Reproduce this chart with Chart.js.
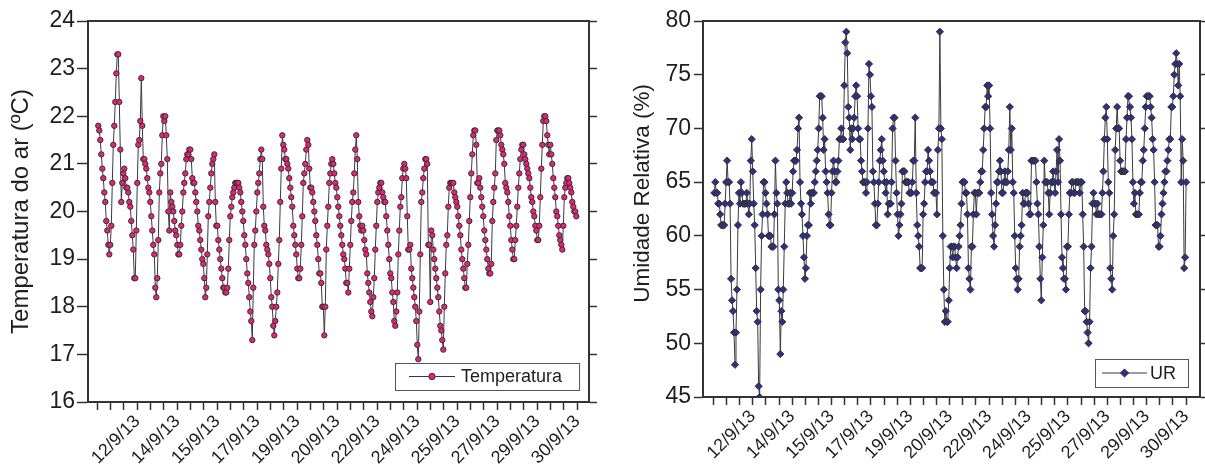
<!DOCTYPE html>
<html>
<head>
<meta charset="utf-8">
<script src="https://cdn.jsdelivr.net/npm/chart.js@4.4.1/dist/chart.umd.min.js"></script>
<style>
  html, body { margin: 0; padding: 0; background: #fff; }
  #wrap { position: relative; width: 1205px; height: 465px; }
  #tempChart { position: absolute; left: 0; top: 0; }
  #urChart { position: absolute; left: 600px; top: 0; }
</style>
</head>
<body>
<div id="wrap">
  <canvas id="tempChart" width="600" height="465"></canvas>
  <canvas id="urChart" width="605" height="465"></canvas>
</div>
<script>
// ------------------------------------------
// dados (leituras horárias, 11/9 a 30/9/13)
// ------------------------------------------
const xTickLabels = ["12/9/13", "14/9/13", "15/9/13", "17/9/13", "19/9/13", "20/9/13",
                     "22/9/13", "24/9/13", "25/9/13", "27/9/13", "29/9/13", "30/9/13"];
const hoursPerLabel = 40;

const tempTicks = [16, 17, 18, 19, 20, 21, 22, 23, 24];
const urTicks = [45, 50, 55, 60, 65, 70, 75, 80];

const temperatura = [
    21.8, 21.7, 21.5, 21.2, 20.9, 20.7, 20.4, 20.2, 19.8, 19.6, 19.3, 19.1,
    19.3, 19.7, 20.6, 21.4, 21.8, 22.3, 22.9, 23.3, 23.3,
    22.3, 21.3, 20.2, 20.6, 20.8, 20.9, 20.7, 20.5, 20.5, 20.4, 20.2, 20.1, 19.8, 19.5, 19.2, 18.6, 18.6,
    19.6, 20.6, 21.4, 21.5, 21.9, 22.8,
    21.8, 21.1, 21.1, 21.0, 20.9, 20.7, 20.5, 20.4, 20.2, 19.9, 19.6, 19.3, 19.1, 18.4, 18.2,
    18.6, 19.4, 20.4, 20.8, 21.0, 21.6, 22.0, 21.9, 22.0,
    21.6, 21.1, 20.0, 19.6, 20.4, 20.2, 20.1, 20.0, 19.8, 19.6, 19.5, 19.3, 19.1, 19.1, 19.3,
    19.7, 20.0, 20.4, 20.6, 20.8, 21.1, 21.2, 21.2, 21.3, 21.3,
    21.1, 20.7, 20.6, 20.6, 20.4, 20.2, 20.0, 19.7, 19.6, 19.4, 19.2, 19.0, 18.9, 18.6, 18.2,
    18.4, 19.1, 19.9, 20.2, 20.5, 20.8, 21.0, 21.1, 21.2,
    20.2, 19.7, 19.7, 19.4, 19.2, 19.0, 18.8, 18.6, 18.4, 18.4, 18.3, 18.3, 18.4, 18.8,
    19.4, 19.9, 20.1, 20.3, 20.4, 20.5, 20.6, 20.6, 20.6,
    20.6, 20.5, 20.4, 20.2, 20.0, 19.8, 19.5, 19.3, 19.0, 18.7, 18.5, 18.2, 17.9, 17.7, 17.3,
    18.4, 19.3, 19.6, 20.0, 20.4, 20.6, 20.8, 21.1, 21.3,
    21.1, 20.1, 19.7, 19.6, 19.3, 19.2, 19.1, 18.9, 18.6, 18.2, 18.0, 17.6, 17.4,
    17.7, 18.0, 18.3, 18.9, 19.4, 20.2, 20.9, 21.6,
    21.4, 21.3, 21.1, 21.1, 21.0, 20.9, 20.7, 20.5, 20.3, 20.1, 19.7, 19.5, 19.3, 19.1, 18.8, 18.6, 18.6,
    18.8, 19.3, 19.9, 20.6, 20.8, 21.0, 21.3, 21.5, 21.4,
    20.9, 20.5, 20.5, 20.4, 20.2, 20.0, 19.8, 19.5, 19.3, 19.0, 18.7, 18.7, 18.5, 18.0, 18.0, 17.4,
    18.0, 19.2, 19.7, 20.1, 20.6, 20.8, 21.0, 21.1,
    21.0, 20.8, 20.6, 20.5, 20.3, 20.1, 19.9, 19.7, 19.5, 19.3, 19.1, 19.0, 18.8, 18.5, 18.5, 18.3,
    18.8, 19.3, 19.8, 20.2, 20.4, 20.8, 21.3, 21.6,
    21.1, 20.2, 19.9, 19.7, 19.6, 19.7, 19.6, 19.4, 19.2, 19.1, 18.7, 18.5, 18.3, 18.1, 17.9, 17.8,
    18.2, 18.6, 19.2, 19.7, 20.2, 20.4, 20.5, 20.6,
    20.6, 20.4, 20.3, 20.2, 20.2, 19.9, 19.6, 19.3, 19.0, 18.7, 18.6, 18.3, 18.1, 17.7, 17.6,
    17.9, 18.3, 19.1, 19.6, 20.1, 20.3, 20.7, 20.9, 21.0,
    20.9, 20.7, 19.9, 19.2, 19.2, 19.3, 18.8, 18.6, 18.4, 18.2, 18.0, 17.7, 17.2, 16.9,
    17.9, 19.1, 20.2, 20.4, 20.7, 20.9, 21.1, 21.1, 21.0,
    19.3, 19.3, 18.1, 19.6, 19.5, 19.2, 19.0, 18.8, 18.6, 18.4, 18.2, 17.9, 17.6, 17.5, 17.3, 17.1,
    18.0, 18.7, 19.3, 19.5, 20.1, 20.5, 20.6, 20.6, 20.6, 20.6, 20.4,
    20.3, 20.2, 20.1, 19.9, 19.7, 19.5, 19.2, 19.0, 18.8, 18.6, 18.4, 18.4,
    18.9, 19.3, 19.8, 20.3, 20.8, 21.2, 21.6, 21.7, 21.7,
    21.4, 20.6, 20.6, 20.7, 20.5, 20.3, 20.1, 19.9, 19.6, 19.4, 19.2, 19.0, 18.8, 18.7, 18.7, 18.9,
    19.8, 20.2, 20.5, 20.8, 21.5, 21.7, 21.7, 21.7, 21.6,
    21.4, 21.3, 21.2, 21.0, 20.6, 20.5, 20.4, 20.2, 19.9, 19.7, 19.4, 19.2, 19.0, 19.0,
    19.4, 19.7, 20.1, 20.5, 20.8, 21.1, 21.3, 21.4, 21.4,
    21.2, 21.1, 21.0, 20.9, 20.8, 20.7, 20.5, 20.3, 20.2, 20.0, 19.9, 19.7, 19.6, 19.4, 19.4, 19.7,
    20.3, 20.9, 21.4, 21.9, 22.0, 22.0, 21.9,
    21.6, 21.4, 21.2, 21.4, 21.2, 21.0, 20.7, 20.5, 20.3, 20.0, 19.9, 19.7, 19.5, 19.4, 19.3, 19.2,
    19.7, 20.3, 20.5, 20.6, 20.7, 20.7,
    20.6, 20.5, 20.4, 20.2, 20.1, 20.0, 20.0, 19.9
];

const umidade = [
    64, 65, 64, 64, 63, 63, 62, 61, 61, 61, 61, 63, 65, 67, 65, 65, 63, 56, 54, 53,
    51, 48, 51, 55, 61, 64, 63, 65, 64, 63, 63, 63, 63, 64, 63, 62, 63, 67, 69, 66,
    63, 61, 57, 53, 52, 46, 45, 55, 60, 62, 65, 65, 64, 63, 62, 60, 60, 60, 59, 59,
    59, 62, 67, 64, 63, 55, 54, 49, 53, 52, 55, 59, 63, 65, 64, 63, 63, 64, 63, 64,
    66, 67, 67, 67, 68, 70, 71, 65, 63, 62, 60, 58, 56, 57, 60, 61, 61, 64, 63, 64,
    64, 64, 65, 66, 67, 68, 70, 73, 73, 73, 71, 68, 69, 66, 65, 64, 62, 61, 61, 64,
    66, 67, 66, 65, 65, 66, 67, 69, 69, 70, 69, 69, 74, 78, 79, 77, 72, 71, 68, 70,
    69, 70, 71, 73, 74, 73, 70, 69, 69, 67, 66, 65, 65, 65, 64, 65, 70, 76, 75, 73,
    72, 66, 65, 63, 61, 61, 63, 65, 67, 68, 69, 67, 66, 65, 64, 65, 62, 63, 63, 63,
    65, 70, 71, 71, 67, 64, 62, 60, 61, 62, 63, 66, 66, 66, 65, 65, 65, 65, 64, 64,
    64, 65, 67, 67, 71, 64, 61, 60, 59, 57, 57, 57, 62, 63, 65, 66, 66, 68, 67, 66,
    65, 65, 65, 64, 64, 64, 62, 68, 70, 79, 70, 69, 60, 55, 52, 53, 52, 52, 54, 57,
    59, 59, 58, 59, 59, 58, 57, 58, 59, 60, 61, 63, 65, 65, 65, 64, 64, 62, 57, 56,
    55, 59, 59, 62, 64, 64, 62, 64, 64, 64, 65, 66, 66, 68, 70, 72, 72, 74, 73, 74,
    70, 64, 62, 60, 59, 61, 63, 65, 65, 66, 67, 66, 64, 64, 65, 66, 65, 65, 66, 68,
    72, 68, 70, 65, 64, 60, 57, 56, 55, 56, 59, 60, 61, 64, 63, 63, 64, 64, 64, 63,
    62, 62, 67, 67, 67, 67, 67, 65, 63, 62, 59, 56, 54, 58, 61, 67, 65, 65, 65, 64,
    62, 64, 65, 65, 66, 65, 64, 66, 68, 65, 69, 67, 62, 58, 57, 56, 56, 55, 59, 59,
    62, 64, 64, 65, 65, 64, 64, 65, 65, 65, 65, 64, 65, 65, 62, 59, 53, 53, 52, 51,
    50, 52, 57, 59, 63, 64, 63, 63, 62, 63, 62, 62, 62, 62, 64, 66, 69, 71, 72, 69,
    65, 64, 57, 56, 55, 60, 62, 68, 70, 72, 70, 70, 67, 66, 66, 66, 66, 66, 69, 71,
    73, 73, 72, 71, 69, 65, 63, 64, 62, 62, 62, 62, 64, 65, 65, 67, 68, 70, 72, 73,
    73, 73, 73, 72, 71, 69, 68, 65, 61, 61, 61, 59, 59, 60, 62, 63, 64, 65, 66, 66,
    67, 68, 69, 69, 72, 72, 73, 75, 76, 77, 76, 74, 76, 73, 65, 69, 67, 57, 58, 65
];

const FONT = '"Liberation Sans", Arial, Helvetica, sans-serif';
Chart.defaults.font.family = FONT;
Chart.defaults.color = "#1e1e1e";

// ------------------------------------------
// eixo x: marca a cada 40/3 h, rótulo a cada 40 h
// ------------------------------------------
function hourTicks(scale) {
    const ticks = [];
    const step = hoursPerLabel / 3;
    for (let n = 0; n <= xTickLabels.length * 3; n++) ticks.push({ value: n * step });
    scale.ticks = ticks;
}

function hourLabel(value) {
    const n = Math.round(value / hoursPerLabel);
    if (n < 1 || Math.abs(value - n * hoursPerLabel) > 0.01) return "";
    return xTickLabels[n - 1];
}

// ------------------------------------------
// legenda em caixa, no canto inferior direito
// ------------------------------------------
const boxLegend = {
    id: "boxLegend",
    afterDraw(chart, args, o) {
        const { ctx, chartArea: a } = chart;
        const ds = chart.data.datasets[0];
        ctx.save();
        ctx.font = `18px ${FONT}`;
        const tw = ctx.measureText(ds.label).width;
        const w = o.padLeft + o.lineLen + o.gap + tw + o.padRight;
        const x = Math.round(a.right - o.right - w);
        const y = Math.round(a.bottom - o.bottom - o.height);
        const cy = y + o.height / 2;

        ctx.fillStyle = "#fff";
        ctx.fillRect(x, y, w, o.height);
        ctx.strokeStyle = "#555";
        ctx.lineWidth = 1;
        ctx.strokeRect(x + 0.5, y + 0.5, w, o.height);

        ctx.strokeStyle = ds.borderColor;
        ctx.lineWidth = ds.borderWidth;
        ctx.beginPath();
        ctx.moveTo(x + o.padLeft, cy);
        ctx.lineTo(x + o.padLeft + o.lineLen, cy);
        ctx.stroke();

        ctx.fillStyle = ds.pointBackgroundColor;
        ctx.strokeStyle = ds.pointBorderColor;
        ctx.lineWidth = ds.pointBorderWidth;
        Chart.helpers.drawPoint(ctx, {
            pointStyle: ds.pointStyle,
            radius: ds.pointRadius + 0.5,
            borderWidth: ds.pointBorderWidth,
            rotation: 0
        }, x + o.padLeft + o.lineLen / 2, cy);

        ctx.fillStyle = "#1e1e1e";
        ctx.textAlign = "left";
        ctx.textBaseline = "middle";
        ctx.fillText(ds.label, x + o.padLeft + o.lineLen + o.gap, cy + 1);
        ctx.restore();
    }
};

function makeChart(id, s) {
    const axisLine = { display: true, color: "#333", width: 2 };
    const tickGrid = { drawOnChartArea: false, drawTicks: true, tickColor: "#333", tickWidth: 1.5 };

    return new Chart(document.getElementById(id), {
        type: "line",
        data: {
            datasets: [{
                label: s.label,
                data: s.values.map((v, i) => ({ x: i + 1, y: v })),
                borderColor: "#3a3a3a",
                borderWidth: 1,
                pointStyle: s.pointStyle,
                pointRadius: s.pointRadius,
                pointBackgroundColor: s.color,
                pointBorderColor: "#333",
                pointBorderWidth: 1,
                tension: 0
            }]
        },
        options: {
            responsive: false,
            animation: false,
            devicePixelRatio: 1,
            layout: { padding: 0 },
            plugins: {
                legend: { display: false },
                tooltip: { enabled: false },
                boxLegend: s.legend
            },
            scales: {
                x: {
                    type: "linear",
                    position: "bottom",
                    min: s.xMin,
                    max: s.xMax,
                    afterBuildTicks: hourTicks,
                    afterFit: sc => { sc.height = s.box.bottom; },
                    ticks: {
                        autoSkip: false,
                        minRotation: 45,
                        maxRotation: 45,
                        padding: 1,
                        font: { size: 18 },
                        callback: hourLabel
                    },
                    grid: { ...tickGrid, tickLength: 8 },
                    border: axisLine
                },
                x2: {
                    type: "linear",
                    position: "top",
                    afterFit: sc => { sc.height = s.box.top; },
                    ticks: { display: false },
                    grid: { drawOnChartArea: false, drawTicks: false },
                    border: axisLine
                },
                y: {
                    min: s.yTicks[0],
                    max: s.yTicks[s.yTicks.length - 1],
                    afterBuildTicks: sc => { sc.ticks = s.yTicks.map(v => ({ value: v })); },
                    afterFit: sc => { sc.width = s.box.left; },
                    ticks: { padding: s.yPad, font: { size: 23 } },
                    grid: { ...tickGrid, tickLength: s.yTick },
                    border: axisLine,
                    title: {
                        display: true,
                        text: s.yTitle,
                        font: { size: s.titleSize },
                        padding: { top: s.titlePad, bottom: 0 }
                    }
                },
                y2: {
                    position: "right",
                    min: s.yTicks[0],
                    max: s.yTicks[s.yTicks.length - 1],
                    afterBuildTicks: sc => { sc.ticks = s.yTicks.map(v => ({ value: v })); },
                    afterFit: sc => { sc.width = s.box.right; },
                    ticks: { display: false },
                    grid: { ...tickGrid, tickLength: 8 },
                    border: axisLine
                }
            }
        },
        plugins: [boxLegend]
    });
}

window.addEventListener("DOMContentLoaded", () => {

    makeChart("tempChart", {
        label: "Temperatura",
        values: temperatura,
        color: "#e6227a",
        pointStyle: "circle",
        pointRadius: 2.7,
        yTicks: tempTicks,
        yTitle: "Temperatura do ar (ºC)",
        titleSize: 24,
        yPad: 2,
        yTick: 11,
        titlePad: 7,
        xMin: -9.3,
        xMax: 491.7,
        box: { left: 88, top: 21, right: 11, bottom: 63 },
        legend: { padLeft: 14, lineLen: 46, gap: 6, padRight: 17, height: 27, right: 10, bottom: 12 }
    });

    // título um pouco acima do centro, como no original
    makeChart("urChart", {
        label: "UR",
        values: umidade,
        color: "#2e2f86",
        pointStyle: "rectRot",
        pointRadius: 3.6,
        yTicks: urTicks,
        yTitle: "     Umidade Relativa (%)",
        titleSize: 22.5,
        yPad: 3,
        yTick: 9,
        titlePad: 29,
        xMin: -10.5,
        xMax: 494.1,
        box: { left: 103, top: 21, right: 5, bottom: 68 },
        legend: { padLeft: 7, lineLen: 45, gap: 3, padRight: 12, height: 28, right: 12, bottom: 10 }
    });
});
</script>
</body>
</html>
